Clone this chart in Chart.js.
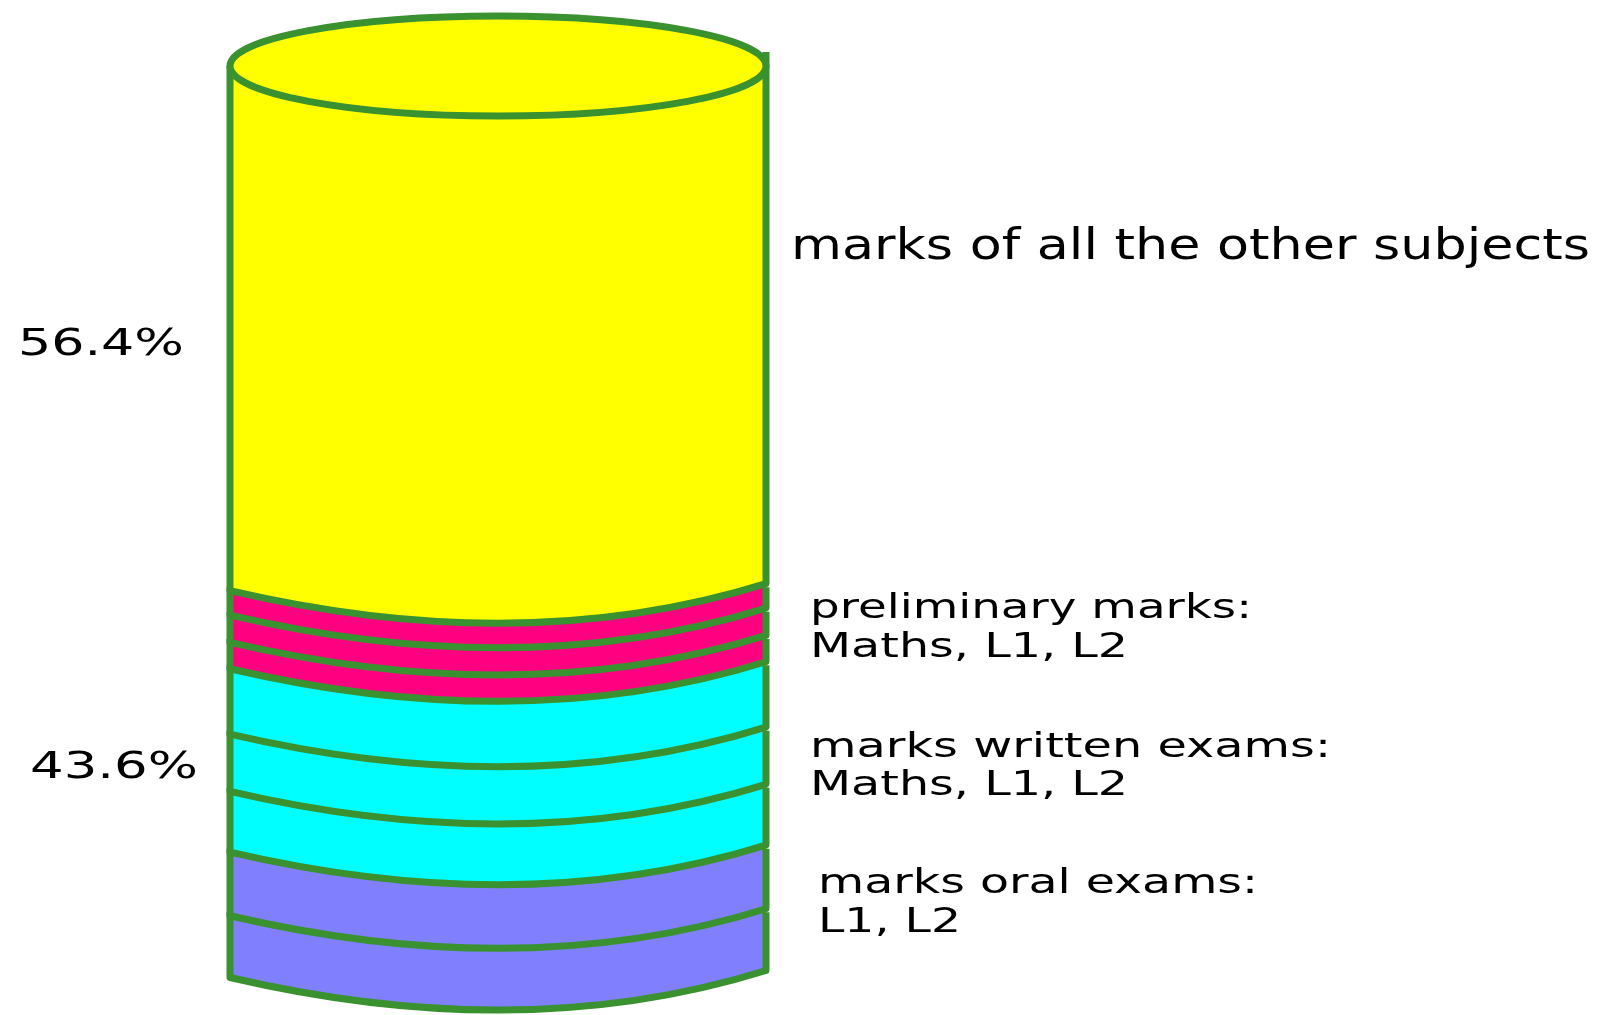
<!DOCTYPE html>
<html>
<head>
<meta charset="utf-8">
<title>Marks cylinder</title>
<style>
    html, body { margin: 0; padding: 0; background: #fff; }
    canvas { display: block; }
</style>
</head>
<body>
<canvas id="marksChart" width="1601" height="1015"></canvas>
<script src="https://cdn.jsdelivr.net/npm/chart.js@4/dist/chart.umd.js"></script>
<script>
// **************************
//    DATA (% of cylinder height, top to bottom)
// **************************
const categories = ["marks"];
const segmentNames = [
    "all the other subjects",
    "preliminary Maths", "preliminary L1", "preliminary L2",
    "written Maths", "written L1", "written L2",
    "oral L1", "oral L2"
];
const segmentValues = [57.4, 2.7, 3.0, 2.9, 7.2, 6.3, 6.7, 7.0, 6.8];
const segmentColors = [
    "#ffff00",
    "#ff0080", "#ff0080", "#ff0080",
    "#00ffff", "#00ffff", "#00ffff",
    "#8080ff", "#8080ff"
];
const percentLabels = ["56.4%", "43.6%"];
const sideLabels = [
    "marks of all the other subjects",
    "preliminary marks:", "Maths, L1, L2",
    "marks written exams:", "Maths, L1, L2",
    "marks oral exams:", "L1, L2"
];

const OUTLINE = "#3a9130";
const ARC_DEPTH = 36;
const ARC_TILT = 3.5;
const ARC_SHIFT = 26;   // keeps the lowest point of a tilted arc in the middle
const CAP_DEPTH = 50;

// **************************
//    CYLINDER BAR
// **************************
class CylinderBar extends Chart.BarElement {
    draw(ctx) {
        const { x, y, base, width } = this.getProps(["x", "y", "base", "width"]);
        const top = Math.min(y, base);
        const bottom = Math.max(y, base);
        const half = width / 2;

        const outline = () => {
            ctx.beginPath();
            ctx.moveTo(x - half, top);
            ctx.lineTo(x - half, bottom + ARC_TILT);
            ctx.quadraticCurveTo(x + ARC_SHIFT, bottom + ARC_DEPTH * 2, x + half, bottom - ARC_TILT);
            ctx.lineTo(x + half, top);
        };

        ctx.save();
        outline();
        ctx.closePath();
        ctx.fillStyle = this.options.backgroundColor;
        ctx.fill();

        // side walls and the curved lower edge
        outline();
        ctx.strokeStyle = this.options.borderColor;
        ctx.lineWidth = this.options.borderWidth;
        ctx.lineJoin = "round";
        ctx.stroke();
        ctx.restore();
    }
}
CylinderBar.id = "cylinderBar";

class CylinderController extends Chart.BarController {
    draw() {
        super.draw();
        if (this.index !== 0) return;

        // the open top of the cylinder belongs to the first segment
        const ctx = this.chart.ctx;
        const bar = this._cachedMeta.data[0];
        const half = bar.width / 2;
        const top = Math.min(bar.y, bar.base);

        ctx.save();
        ctx.beginPath();
        ctx.ellipse(bar.x, top, half, CAP_DEPTH, 0, 0, Math.PI * 2);
        ctx.fillStyle = bar.options.backgroundColor;
        ctx.fill();
        ctx.strokeStyle = bar.options.borderColor;
        ctx.lineWidth = bar.options.borderWidth;
        ctx.stroke();
        ctx.beginPath();
        ctx.moveTo(bar.x + half, top);
        ctx.lineTo(bar.x + half, top - 14);
        ctx.stroke();
        ctx.restore();
    }
}
CylinderController.id = "cylinder";
CylinderController.defaults = { dataElementType: "cylinderBar" };

Chart.register(CylinderBar, CylinderController);

// **************************
//    TEXT LABELS
// **************************
const textLayout = [
    { text: sideLabels[0], x: 791, right: 1590, y: 259, size: 42 },
    { text: sideLabels[1], x: 810, right: 1252, y: 618, size: 34 },
    { text: sideLabels[2], x: 810, right: 1128, y: 657, size: 34 },
    { text: sideLabels[3], x: 810, right: 1331, y: 757, size: 34 },
    { text: sideLabels[4], x: 810, right: 1128, y: 795, size: 34 },
    { text: sideLabels[5], x: 818, right: 1258, y: 893, size: 34 },
    { text: sideLabels[6], x: 818, right: 961, y: 932, size: 34 },
    { text: percentLabels[0], x: 18, right: 184, y: 355, size: 38 },
    { text: percentLabels[1], x: 30, right: 198, y: 778, size: 38 }
];

// The labels in the picture are stretched sideways, so fit each one to its width
const labelPlugin = {
    id: "sideLabels",
    afterDraw(chart) {
        const ctx = chart.ctx;
        ctx.fillStyle = "#000";
        ctx.textBaseline = "alphabetic";
        textLayout.forEach(item => {
            ctx.save();
            ctx.font = item.size + 'px "DejaVu Sans"';
            const stretch = (item.right - item.x) / ctx.measureText(item.text).width;
            ctx.translate(item.x, item.y);
            ctx.scale(stretch, 1);
            ctx.fillText(item.text, 0, 0);
            ctx.restore();
        });
    }
};

// **************************
//    CHART INITIALIZER
// **************************
new Chart(document.getElementById("marksChart"), {
    type: "cylinder",
    data: {
        labels: categories,
        datasets: segmentNames.map((name, i) => ({
            label: name,
            data: [segmentValues[i]],
            backgroundColor: segmentColors[i],
            borderColor: OUTLINE,
            borderWidth: 7,
            barPercentage: 1,
            categoryPercentage: 1,
            clip: false
        }))
    },
    options: {
        responsive: false,
        animation: false,
        layout: { padding: { left: 230, right: 835, top: 66, bottom: 41 } },
        plugins: { legend: { display: false }, tooltip: { enabled: false } },
        scales: {
            x: { type: "category", stacked: true, display: false },
            y: { type: "linear", stacked: true, reverse: true, min: 0, max: 100, display: false }
        }
    },
    plugins: [labelPlugin]
});
</script>
</body>
</html>
